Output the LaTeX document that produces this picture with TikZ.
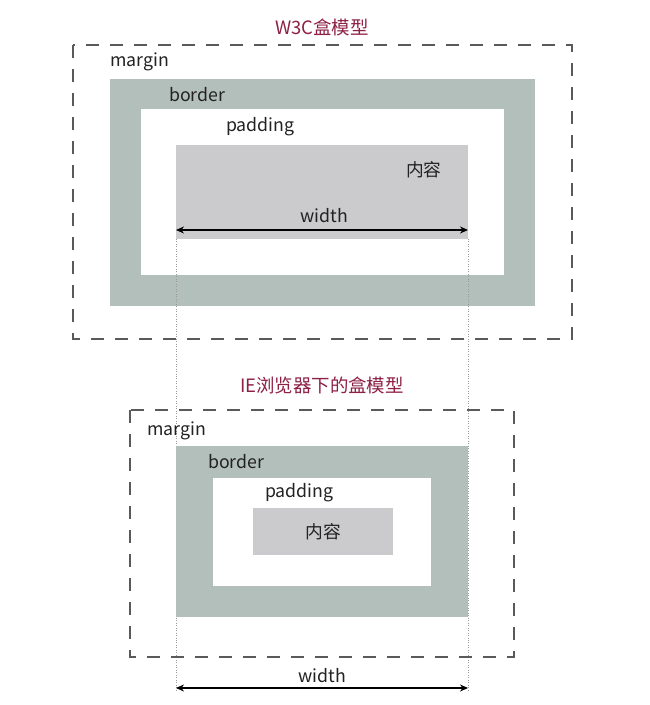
\documentclass[tikz,border=0pt]{standalone}
\usepackage{fontspec}
\setmainfont{Noto Sans CJK SC}
\usetikzlibrary{arrows.meta}
\definecolor{bordercol}{HTML}{B3BFBA}
\definecolor{contentcol}{HTML}{CBCBCD}
\definecolor{titlecol}{HTML}{8E1F45}
\definecolor{dashcol}{HTML}{5A5A5A}
\definecolor{txtcol}{HTML}{222222}
\tikzset{
  marginbox/.style={draw=dashcol, line width=1.7pt, dash pattern=on 13bp off 11bp},
  borderbox/.style={fill=bordercol},
  paddingbox/.style={fill=white},
  contentbox/.style={fill=contentcol},
  lbl/.style={inner sep=0pt, text=txtcol, font=\fontsize{17.8}{20}\selectfont},
  ttl/.style={inner sep=0pt, text=titlecol, font=\fontsize{18.5}{21}\selectfont},
  guide/.style={draw=gray!80, line width=0.5pt, dotted},
  dim/.style={draw=black, line width=1.4pt, {Stealth[length=8bp,width=7bp]}-{Stealth[length=8bp,width=7bp]}}
}
\begin{document}
\begin{tikzpicture}[x=1bp,y=-1bp]
\useasboundingbox[fill=white] (0,0) rectangle (650,705);
% ---- top: W3C
\node[ttl] (t1) at (322,27) {W3C盒模型};
\draw[marginbox] (73,45) rectangle (572,339);
\fill[borderbox] (110,79) rectangle (535,306);
\fill[paddingbox] (141,109) rectangle (504,275);
\fill[contentbox] (176,145) rectangle (468,239);
\coordinate (c1l) at (176,239);
\coordinate (c1r) at (468,239);
\node[lbl, anchor=west] (m1) at (110,62) {margin};
\node[lbl, anchor=west] (b1) at (169,95) {border};
\node[lbl, anchor=west] (p1) at (226,127) {padding};
\node[lbl, anchor=west] (k1) at (406,170) {内容};
\node[lbl] (w1) at (324,216) {width};
\coordinate (a1l) at (176,230);
\coordinate (a1r) at (468,230);
\draw[dim] (a1l) -- (a1r);
% ---- guides
\coordinate (g1) at (176,690);
\coordinate (g2) at (468,690);
\draw[guide] (c1l) -- (g1);
\draw[guide] (c1r) -- (g2);
% ---- bottom: IE
\node[ttl] (t2) at (322,385) {IE浏览器下的盒模型};
\draw[marginbox] (130,410) rectangle (514,657);
\fill[borderbox] (176,446) rectangle (468,617);
\fill[paddingbox] (213,478) rectangle (431,586);
\fill[contentbox] (253,508) rectangle (393,555);
\node[lbl, anchor=west] (m2) at (147,431) {margin};
\node[lbl, anchor=west] (b2) at (208,462) {border};
\node[lbl, anchor=west] (p2) at (265,493) {padding};
\node[lbl] (k2) at (323,532) {内容};
\node[lbl] (w2) at (322,676) {width};
\coordinate (a2l) at (176,688);
\coordinate (a2r) at (468,688);
\draw[dim] (a2l) -- (a2r);
\end{tikzpicture}
\end{document}
